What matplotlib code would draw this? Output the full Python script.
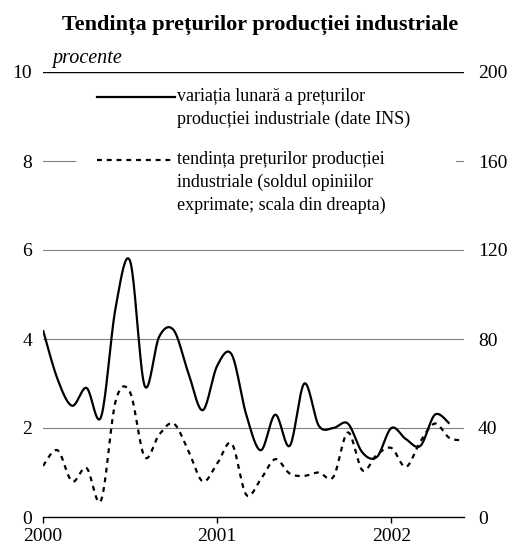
import numpy as np
import matplotlib
matplotlib.use("Agg")
import matplotlib.pyplot as plt
from matplotlib.lines import Line2D
from matplotlib.patches import Rectangle

# ---- data (monthly, Jan 2000 onward) ----
year_labels = ["2000", "2001", "2002"]
solid_vals = [4.2, 3.1, 2.5, 2.9, 2.25, 4.7, 5.75, 2.95, 4.05, 4.2, 3.25, 2.4,
              3.4, 3.65, 2.3, 1.5, 2.3, 1.6, 3.0, 2.05, 2.0, 2.1, 1.45, 1.35,
              2.0, 1.75, 1.6, 2.3, 2.1]
dashed_vals = [23, 30, 16, 22, 7.5, 52, 56, 27, 37, 42, 30, 16,
               24, 33, 10, 17, 26, 19.5, 18.5, 20, 18, 38, 21, 28,
               31, 22.5, 34, 42, 35.5, 34.5]
legend_solid = ["variația lunară a prețurilor", "producției industriale (date INS)"]
legend_dashed = ["tendința prețurilor producției", "industriale (soldul opiniilor",
                 "exprimate; scala din dreapta)"]
title = "Tendința prețurilor producției industriale"
unit = "procente"

plt.rcParams['font.family'] = ['Liberation Serif', 'DejaVu Serif']


def smooth(y, n=20):
    """Excel-style smoothed line (Catmull-Rom Bezier) through the points."""
    y = np.asarray(y, float)
    x = np.arange(len(y), dtype=float)
    P = np.column_stack([x, y])
    out = [P[0]]
    for i in range(len(P) - 1):
        p0 = P[i - 1] if i > 0 else P[i]
        p1 = P[i]
        p2 = P[i + 1]
        p3 = P[i + 2] if i + 2 < len(P) else P[i + 1]
        c1 = p1 + (p2 - p0) / 6.0
        c2 = p2 - (p3 - p1) / 6.0
        t = np.linspace(0, 1, n + 1)[1:, None]
        seg = ((1 - t) ** 3) * p1 + 3 * ((1 - t) ** 2) * t * c1 + 3 * (1 - t) * t ** 2 * c2 + t ** 3 * p2
        out.extend(seg)
    out = np.array(out)
    return out[:, 0], out[:, 1]


W, H = 512, 550
fig = plt.figure(figsize=(W / 100, H / 100), dpi=100)
L, R, T, B = 43, 464, 72, 517
ax = fig.add_axes([L / W, 1 - B / H, (R - L) / W, (B - T) / H])
ax2 = ax.twinx()

ax.set_xlim(0, 29)
ax.set_ylim(0, 10)
ax2.set_ylim(0, 200)

for a in (ax, ax2):
    for s in ("left", "right", "top"):
        a.spines[s].set_visible(False)
ax2.spines["bottom"].set_visible(False)
ax.spines["bottom"].set_color("black")
ax.spines["bottom"].set_linewidth(1.0)

TICK_FS = 14
ax.set_yticks(range(0, 11, 2))
ax2.set_yticks(range(0, 201, 40))
ax.tick_params(axis='y', length=0, pad=8, labelsize=TICK_FS)
ax2.tick_params(axis='y', length=0, pad=10, labelsize=TICK_FS)
ax.set_xticks([0, 12, 24])
ax.set_xticklabels(year_labels)
ax.tick_params(axis='x', direction='out', length=4, width=1, pad=4, labelsize=TICK_FS)

ax.set_axisbelow(True)
for v in (2, 4, 6, 8):
    ax.axhline(v, color="#808080", lw=0.8, zorder=0.5)
ax.axhline(10, color="black", lw=1.0, zorder=0.5)

# legend box (white, no border)
def px2fig(x, y):
    return x / W, 1 - y / H

bx0, by0 = px2fig(76, 80)
bx1, by1 = px2fig(456, 240)
fig.patches.append(Rectangle((bx0, by1), bx1 - bx0, by0 - by1, transform=fig.transFigure,
                             facecolor="white", edgecolor="none", zorder=1))

xs, ys = smooth(solid_vals)
ax.plot(xs, ys, color="black", lw=1.6, zorder=3, solid_capstyle='butt')
xd, yd = smooth(dashed_vals)
ax2.plot(xd, yd, color="black", lw=1.6, ls=(0, (2.2, 2.2)), zorder=3)

# legend samples and texts
LEG_FS = 13
fig.lines.append(Line2D([97 / W, 175 / W], [1 - 97 / H, 1 - 97 / H], transform=fig.transFigure,
                        color="black", lw=1.6, zorder=5))
fig.lines.append(Line2D([97 / W, 175 / W], [1 - 160 / H, 1 - 160 / H], transform=fig.transFigure,
                        color="black", lw=1.6, ls=(0, (2.2, 2.2)), zorder=5))
for i, line in enumerate(legend_solid):
    fig.text(177 / W, 1 - (101 + 23 * i) / H, line, fontsize=LEG_FS, va='baseline', ha='left', zorder=6)
for i, line in enumerate(legend_dashed):
    fig.text(177 / W, 1 - (164 + 23 * i) / H, line, fontsize=LEG_FS, va='baseline', ha='left', zorder=6)

fig.text(260 / W, 1 - 30 / H, title, fontsize=16, fontweight='bold', ha='center', va='baseline')
fig.text(52 / W, 1 - 63 / H, unit, fontsize=14.5, style='italic', ha='left', va='baseline')

fig.savefig("out.png", dpi=100)
